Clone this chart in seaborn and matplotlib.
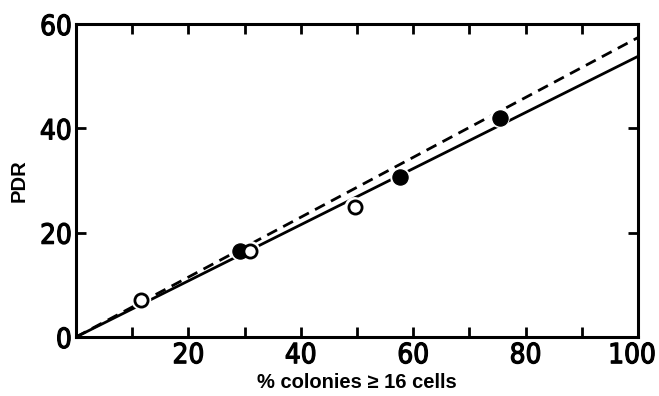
import matplotlib
matplotlib.use("Agg")
import matplotlib.pyplot as plt
import matplotlib.patheffects as pe
import matplotlib.transforms as mtransforms
import seaborn as sns
from matplotlib.ticker import MultipleLocator, FixedLocator

# data
open_x = [11.6, 31.0, 49.6]
open_y = [7.1, 16.5, 24.9]
filled_x = [29.2, 57.7, 75.4]
filled_y = [16.5, 30.6, 42.0]
dashed_x = [0, 100]
dashed_y = [0, 57.4]
solid_x = [0, 100]
solid_y = [0, 53.8]
x_ticks = [20, 40, 60, 80, 100]
y_ticks = [0, 20, 40, 60]

sns.set_theme(style="white")
plt.rcParams['font.family'] = ['DejaVu Sans', 'Liberation Sans']
plt.rcParams['text.color'] = 'black'
plt.rcParams['axes.labelcolor'] = 'black'
plt.rcParams['xtick.color'] = 'black'
plt.rcParams['ytick.color'] = 'black'

fig = plt.figure(figsize=(6.59, 3.96), dpi=100)
ax = fig.add_axes([76/659, 1 - 337/396, (638-76)/659, (337-24)/396])

sns.lineplot(x=dashed_x, y=dashed_y, ax=ax, color='black', lw=2.0,
             linestyle=(0, (4, 2.5)), zorder=2)
sns.lineplot(x=solid_x, y=solid_y, ax=ax, color='black', lw=2.0, zorder=2)

# white halos
sns.scatterplot(x=open_x + filled_x, y=open_y + filled_y, ax=ax, s=210,
                color='white', edgecolor='none', zorder=3, legend=False)
sns.scatterplot(x=filled_x, y=filled_y, ax=ax, s=120, color='black',
                edgecolor='black', zorder=4, legend=False)
sns.scatterplot(x=open_x, y=open_y, ax=ax, s=90, color='white',
                edgecolor='black', linewidth=2.0, zorder=5, legend=False)

ax.set_xlim(0, 100)
ax.set_ylim(0, 60)
ax.xaxis.set_major_locator(FixedLocator(x_ticks))
ax.xaxis.set_minor_locator(MultipleLocator(10))
ax.yaxis.set_major_locator(FixedLocator(y_ticks))

for s in ax.spines.values():
    s.set_visible(True)
    s.set_color('black')
    s.set_linewidth(2.2)

ax.tick_params(axis='both', which='both', direction='in', color='black',
               width=2.0, length=7, top=True, right=True, bottom=True, left=True)
ax.tick_params(axis='x', which='both', labeltop=False)
ax.tick_params(axis='y', which='both', labelright=False)
ax.tick_params(axis='both', which='major', labelsize=20, pad=3, labelcolor='black')

for lab in ax.get_xticklabels() + ax.get_yticklabels():
    lab.set_fontfamily(['DejaVu Sans Condensed', 'Liberation Sans Narrow', 'DejaVu Sans'])
    lab.set_fontstretch('condensed')
    lab.set_fontweight('normal')
    lab.set_path_effects([pe.withStroke(linewidth=0.9, foreground='black')])

# nudge the last x label so it stays inside the figure
last = ax.get_xticklabels()[-1]
last.set_transform(last.get_transform() +
                   mtransforms.ScaledTranslation(-6/100, 0, fig.dpi_scale_trans))

ax.set_xlabel('% colonies ≥ 16 cells', fontsize=14.5, fontweight='bold',
              family=['Liberation Sans', 'DejaVu Sans'], labelpad=3, color='black')
ax.set_ylabel('PDR', fontsize=14.5, fontweight='bold',
              family=['Liberation Sans', 'DejaVu Sans'], labelpad=8, color='black')

fig.savefig('out.png', dpi=100)
